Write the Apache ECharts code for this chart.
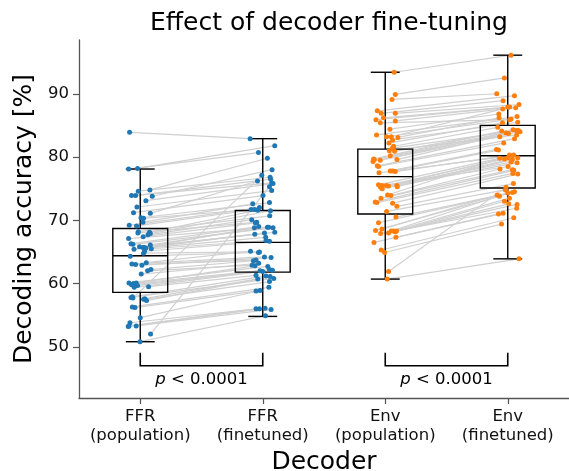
<!DOCTYPE html>
<html><head><meta charset="utf-8">
<script src="https://cdn.jsdelivr.net/npm/echarts@6/dist/echarts.min.js"></script>
<style>html,body{margin:0;padding:0;background:#fff}#c{width:569px;height:471px}</style>
</head><body><div id="c"></div>
<script>
const categories = ['FFR\n(population)', 'FFR\n(finetuned)', 'Env\n(population)', 'Env\n(finetuned)'];
const yTicks = [50, 60, 70, 80, 90];
const sigLabel = 'p < 0.0001';

// per-subject accuracies (index i = same subject in the paired arrays)
const ffrPop = [83.9,78.1,78.2,74.6,74.8,73.9,73.9,73.8,73.1,72.1, 71.2,71.1,70.4,70.3,69.7,69.2,69.1,68.2,68.1,68.0, 67.9,67.7,67.4,67.1,66.3,66.2,66.1,65.8,65.7,65.6, 65.7,65.5,65.4,65.1,64.8,64.3,63.3,63.1,63.0,62.9, 62.2,62.0,61.5,60.1,60.0,60.1,59.8,59.7,59.5,59.4, 57.9,57.8,57.6,57.5,57.7,57.3,56.2,56.3,54.6,53.8, 53.3,53.2,53.3,52.0,50.8];
const ffrPopJit = [-0.087,-0.095,-0.022,-0.016,0.079,-0.071,-0.038,0.098,0.046,-0.027, -0.055,0.082,0.006,0.027,0.022,-0.090,-0.030,-0.016,0.076,-0.019, 0.082,0.063,0.024,-0.095,-0.076,-0.060,0.082,-0.006,0.030,0.046, 0.022,0.090,-0.051,0.035,0.027,-0.082,0.049,-0.068,-0.038,0.014, 0.087,0.060,0.008,-0.092,-0.055,-0.033,-0.071,-0.022,0.068,-0.049, -0.065,-0.076,0.038,0.027,-0.060,0.051,-0.043,-0.065,0.000,-0.084, -0.092,-0.098,-0.033,0.084,-0.002];
const ffrFine = [82.9,80.7,81.8,76.8,79.8,75.9,76.5,78.0,75.8,74.7, 73.9,76.2,72.8,71.7,72.6,72.0,71.7,70.7,71.6,69.7, 71.5,70.1,69.6,68.9,69.0,68.8,68.9,68.1,68.8,67.3, 68.0,66.8,67.8,66.7,65.0,64.9,65.1,64.2,63.7,64.1, 63.6,62.9,63.2,62.7,62.2,62.8,61.9,62.0,61.3,62.1, 61.2,60.8,61.1,60.3,77.1,60.7,58.8,59.4,58.9,56.0, 56.0,56.1,55.9,75.3,54.9];
const ffrFineJit = [-0.103,-0.035,0.098,0.060,0.038,0.073,0.065,0.076,0.084,0.073, 0.002,-0.043,0.055,-0.095,-0.082,-0.027,-0.065,0.057,-0.041,-0.049, 0.063,-0.090,-0.060,0.038,-0.033,0.084,0.049,0.098,-0.068,0.024, 0.014,0.027,-0.065,0.055,-0.027,-0.035,-0.100,0.014,-0.055,0.068, -0.076,-0.087,-0.033,0.041,0.055,-0.063,0.000,-0.022,-0.055,0.079, 0.027,0.090,0.060,0.055,-0.008,-0.041,-0.055,0.050,-0.022,-0.055, -0.027,0.019,0.068,0.055,0.022];
const envPop = [93.4,89.9,89.1,87.3,86.9,86.9,86.2,85.9,85.7,85.4, 84.4,83.5,83.2,83.2,83.1,82.7,82.2,81.7,81.4,81.0, 80.9,80.2,79.6,79.5,79.6,79.7,79.3,78.6,78.5,77.8, 77.8,77.7,77.5,75.6,75.5,75.5,75.4,75.5,75.3,75.2, 75.0,74.0,73.9,73.5,72.9,72.8,72.7,72.2,71.4,70.5, 69.6,68.6,68.4,68.3,68.3,68.2,68.3,68.0,67.9,67.3, 66.5,65.3,64.9,61.9,60.7];
const envPopJit = [0.073,0.082,0.055,-0.065,-0.033,0.082,-0.014,-0.076,0.082,-0.041, 0.038,-0.071,0.011,0.049,0.103,0.060,0.030,0.068,0.057,0.033, 0.076,0.041,-0.090,-0.041,0.095,-0.095,-0.100,-0.065,-0.055,0.041, 0.060,0.082,-0.051,-0.055,-0.027,0.008,0.027,0.095,0.098,-0.038, -0.025,0.019,0.046,-0.035,-0.082,-0.068,0.060,0.095,0.011,0.087, -0.055,-0.027,-0.079,0.049,0.068,0.082,0.092,0.027,-0.038,0.087, -0.092,-0.033,-0.005,0.027,0.016];
const envFine = [96.1,92.5,90.0,89.7,88.9,88.3,87.9,87.9,87.8,85.9, 86.8,86.4,86.0,87.6,86.2,85.5,85.4,84.7,84.2,83.5, 84.3,84.2,84.0,83.8,83.7,84.1,83.2,82.9,82.2,81.2, 81.1,80.3,80.2,80.3,78.5,79.7,79.9,79.9,79.6,79.2, 79.1,79.8,78.1,78.0,77.9,77.4,77.3,75.8,74.8,74.5, 74.4,74.0,73.8,74.3,73.5,73.0,72.6,72.5,71.9,71.0, 71.1,70.4,69.4,75.2,63.9];
const envFineJit = [0.027,-0.027,-0.090,0.055,-0.038,0.092,0.000,0.016,0.065,0.016, -0.073,0.076,0.027,-0.041,-0.071,0.082,-0.043,-0.082,0.087,0.073, 0.043,0.071,0.100,-0.014,0.006,-0.049,-0.065,0.055,-0.033,-0.092, -0.076,0.014,0.035,0.049,0.003,-0.027,0.000,0.082,0.038,0.027, 0.076,-0.065,-0.063,0.038,0.049,0.041,0.082,0.046,-0.019,0.055, 0.038,-0.087,-0.068,0.000,0.014,-0.027,0.008,0.076,0.073,-0.076, -0.038,0.049,-0.051,-0.014,0.092];

// box statistics [whisker low, Q1, median, Q3, whisker high]
const ffrPopBox  = [50.8, 58.6, 64.4, 68.7, 78.1];
const ffrFineBox = [54.8, 61.8, 66.5, 71.55, 82.9];
const envPopBox  = [60.7, 71.0, 76.9, 81.25, 93.4];
const envFineBox = [63.9, 75.1, 80.2, 85.0, 96.1];

const FONT = 'DejaVu Sans';
const BLUE = '#1f77b4', ORANGE = '#ff7f0e';

const groups = [
  {vals: ffrPop, jit: ffrPopJit, box: ffrPopBox, color: BLUE},
  {vals: ffrFine, jit: ffrFineJit, box: ffrFineBox, color: BLUE},
  {vals: envPop, jit: envPopJit, box: envPopBox, color: ORANGE},
  {vals: envFine, jit: envFineJit, box: envFineBox, color: ORANGE}
];
const pairs = [[0, 1], [2, 3]];

const lineData = [];
pairs.forEach(([a, b]) => {
  groups[a].vals.forEach((v, i) => {
    lineData.push([a + groups[a].jit[i], v, b + groups[b].jit[i], groups[b].vals[i]]);
  });
});
const boxData = groups.map((g, k) => [k].concat(g.box));

const HALF_BOX = 0.224, HALF_CAP = 0.118;

const series = [
  {
    type: 'custom', z: 1, silent: true,
    data: lineData,
    encode: {x: [0, 2], y: [1, 3]},
    renderItem: (params, api) => {
      const p1 = api.coord([api.value(0), api.value(1)]);
      const p2 = api.coord([api.value(2), api.value(3)]);
      return {type: 'line', shape: {x1: p1[0], y1: p1[1], x2: p2[0], y2: p2[1]},
              style: {stroke: '#d0d0d0', lineWidth: 1.2}};
    }
  },
  {
    type: 'custom', z: 2, silent: true,
    data: boxData,
    encode: {x: 0, y: [1, 2, 3, 4, 5]},
    renderItem: (params, api) => {
      const x = api.value(0);
      const lo = api.value(1), q1 = api.value(2), med = api.value(3), q3 = api.value(4), hi = api.value(5);
      const tl = api.coord([x - HALF_BOX, q3]);
      const br = api.coord([x + HALF_BOX, q1]);
      const m1 = api.coord([x - HALF_BOX, med]);
      const m2 = api.coord([x + HALF_BOX, med]);
      const cTop = api.coord([x, hi]);
      const cBot = api.coord([x, lo]);
      const cl = api.coord([x - HALF_CAP, hi]);
      const cr = api.coord([x + HALF_CAP, lo]);
      const st = {stroke: '#000', lineWidth: 1.4, fill: null};
      return {type: 'group', children: [
        {type: 'line', shape: {x1: cTop[0], y1: cTop[1], x2: cTop[0], y2: tl[1]}, style: st},
        {type: 'line', shape: {x1: cBot[0], y1: br[1], x2: cBot[0], y2: cBot[1]}, style: st},
        {type: 'line', shape: {x1: cl[0], y1: cTop[1], x2: cr[0], y2: cTop[1]}, style: st},
        {type: 'line', shape: {x1: cl[0], y1: cBot[1], x2: cr[0], y2: cBot[1]}, style: st},
        {type: 'rect', shape: {x: tl[0], y: tl[1], width: br[0] - tl[0], height: br[1] - tl[1]}, style: st},
        {type: 'line', shape: {x1: m1[0], y1: m1[1], x2: m2[0], y2: m2[1]}, style: st}
      ]};
    }
  }
];

groups.forEach((g, k) => {
  series.push({
    type: 'scatter', z: 3, silent: true,
    symbolSize: 5,
    itemStyle: {color: g.color, opacity: 1},
    data: g.vals.map((v, i) => [k + g.jit[i], v])
  });
});

series.push({
  type: 'custom', z: 4, silent: true,
  data: pairs,
  encode: {x: [0, 1]},
  renderItem: (params, api) => {
    const a = api.value(0), b = api.value(1);
    const yTop = 49.05, yBar = 47.0, yTxt = 44.8;
    const pA = api.coord([a, yTop]), pAb = api.coord([a, yBar]);
    const pB = api.coord([b, yTop]), pBb = api.coord([b, yBar]);
    const t = api.coord([(a + b) / 2, yTxt]);
    return {type: 'group', children: [
      {type: 'polyline', shape: {points: [pA, pAb, pBb, pB]},
       style: {stroke: '#000', lineWidth: 1.6, fill: null}},
      {type: 'text', x: t[0], y: t[1], style: {
        text: '{i|p} < 0.0001', align: 'center', verticalAlign: 'middle',
        fontFamily: FONT, fontSize: 16.5, fill: '#000',
        rich: {i: {fontStyle: 'italic', fontFamily: FONT, fontSize: 16.5}}
      }}
    ]};
  }
});

const chart = echarts.init(document.getElementById('c'), null, {renderer: 'canvas'});
chart.setOption({
  animation: false,
  backgroundColor: '#fff',
  title: {
    text: 'Effect of decoder fine-tuning', left: 324, top: 6, textAlign: 'center',
    textStyle: {fontFamily: FONT, fontSize: 25, fontWeight: 'normal', color: '#000'}
  },
  grid: {left: 79, right: 0, top: 40, bottom: 73, containLabel: false, outerBoundsMode: 'none'},
  xAxis: {
    type: 'value', min: -0.5, max: 3.5,
    axisLine: {onZero: false, lineStyle: {color: '#555', width: 1.3}},
    axisTick: {length: 6, lineStyle: {color: '#555', width: 1.2}, customValues: [0, 1, 2, 3]},
    axisLabel: {customValues: [0, 1, 2, 3], formatter: v => categories[Math.round(v)],
      fontFamily: FONT, fontSize: 16.5, lineHeight: 19, color: '#111', margin: 9},
    splitLine: {show: false},
    name: 'Decoder', nameLocation: 'middle', nameGap: 49,
    nameTextStyle: {fontFamily: FONT, fontSize: 25, color: '#000'}
  },
  yAxis: {
    type: 'value', min: 41.9, max: 98.5,
    axisLine: {show: true, onZero: false, lineStyle: {color: '#555', width: 1.3}},
    axisTick: {show: true, length: 6, lineStyle: {color: '#555', width: 1.2}, customValues: yTicks},
    axisLabel: {customValues: yTicks, fontFamily: FONT, fontSize: 16.5, color: '#111', margin: 10},
    splitLine: {show: false},
    name: 'Decoding accuracy [%]', nameLocation: 'middle', nameGap: 38, nameRotate: 90,
    nameTextStyle: {fontFamily: FONT, fontSize: 25, color: '#000'}
  },
  series: series
});
</script></body></html>
